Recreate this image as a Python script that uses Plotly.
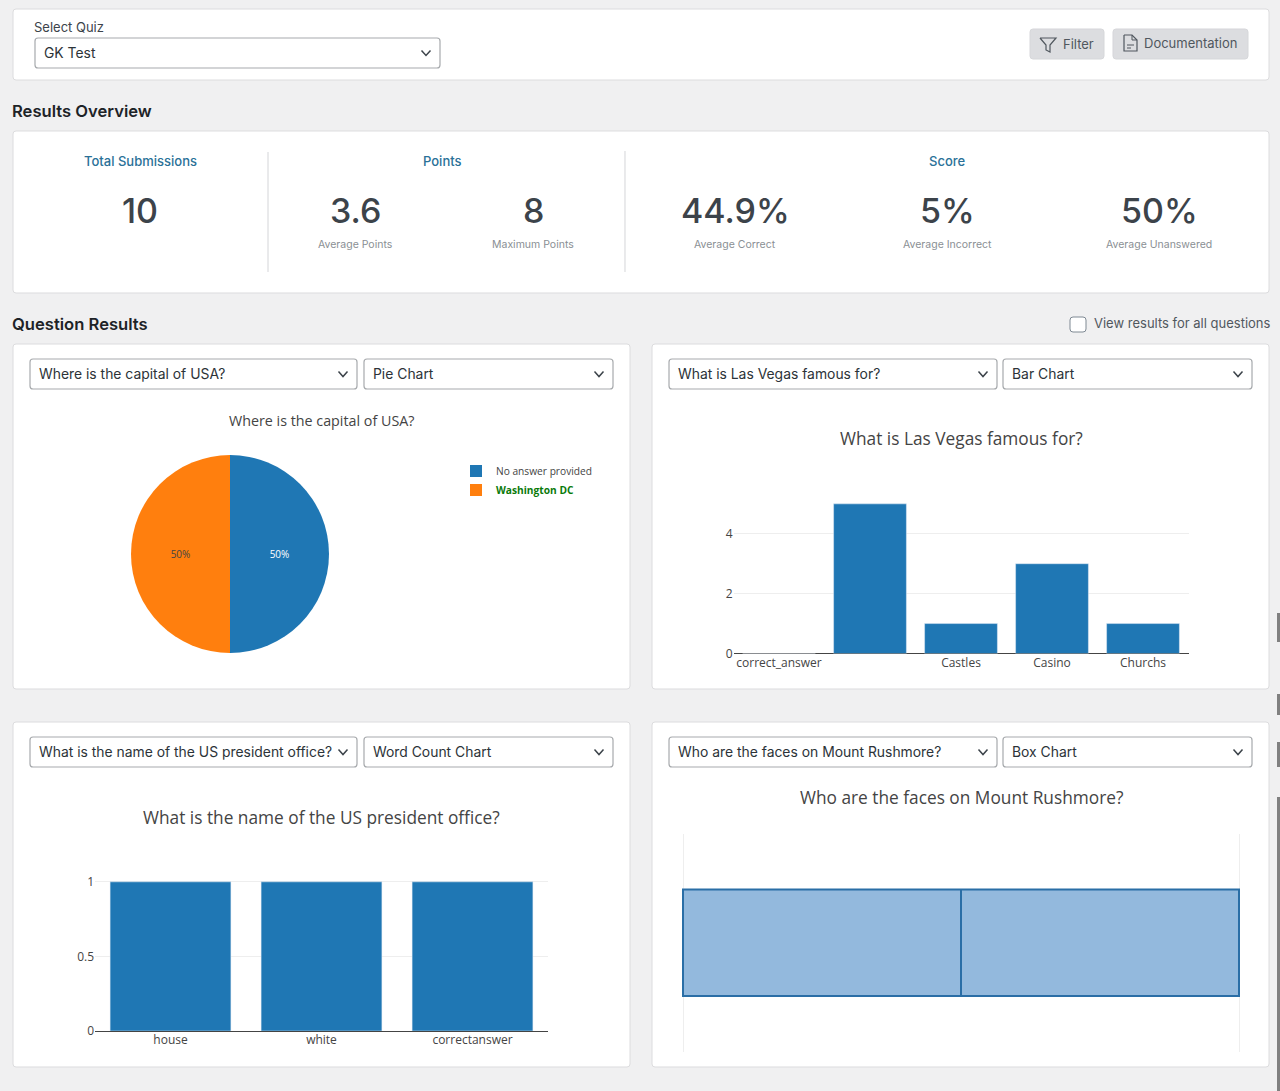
import plotly.graph_objects as go

W, H = 1280, 1091
UI_FONT = "Inter"
CHART_FONT = "Open Sans"

# Pie: Where is the capital of USA?
pie_labels = ["No answer provided", "<b><span style='color:#0a7a0a'>Washington DC</span></b>"]
pie_values = [50, 50]
pie_colors = ["#1f77b4", "#ff7f0e"]

# Bar: What is Las Vegas famous for?
vegas_labels = ["correct_answer", " ", "Castles", "Casino", "Churchs"]
vegas_values = [0, 5, 1, 3, 1]
vegas_ticks = [0, 2, 4]

# Word count
word_labels = ["house", "white", "correctanswer"]
word_values = [1, 1, 1]
word_ticks = [0, 0.5, 1]
word_ticktext = ["0", "0.5", "1"]

# Box: Who are the faces on Mount Rushmore?
box_q1 = [0]
box_median = [0.5]
box_q3 = [1]

# Overview numbers
summary_values = ["10", "3.6", "8", "44.9%", "5%", "50%"]
summary_labels = ["", "Average Points", "Maximum Points", "Average Correct", "Average Incorrect", "Average Unanswered"]
summary_x = [140, 355, 533, 735, 947, 1159]
group_titles = ["Total Submissions", "Points", "Score"]
group_x = [140, 442, 947]

# (question select text, chart select text, chart title)
select_rows = [
    ("Where is the capital of USA?", "Pie Chart"),
    ("What is Las Vegas famous for?", "Bar Chart"),
    ("What is the name of the US president office?", "Word Count Chart"),
    ("Who are the faces on Mount Rushmore?", "Box Chart"),
]


def px(x):
    return x / W


def py(y):
    return 1 - y / H


def rounded(x0, y0, x1, y1, r):
    # rounded box as an svg path in paper coords
    pts = [
        ("M", x0 + r, y0), ("L", x1 - r, y0), ("Q", x1, y0, x1, y0 + r),
        ("L", x1, y1 - r), ("Q", x1, y1, x1 - r, y1), ("L", x0 + r, y1),
        ("Q", x0, y1, x0, y1 - r), ("L", x0, y0 + r), ("Q", x0, y0, x0 + r, y0),
    ]
    out = ""
    for p in pts:
        out += p[0] + " " + " ".join(
            f"{px(v) if i % 2 == 0 else py(v):.5f}" for i, v in enumerate(p[1:])
        ) + " "
    return out + "Z"


def polyline(points):
    return "M " + " L ".join(f"{px(x):.5f} {py(y):.5f}" for x, y in points)


shapes = []
annotations = []


def box_shape(x0, y0, x1, y1, r=3, fill="#ffffff", line="#dcdcde", width=1):
    shapes.append(dict(type="path", path=rounded(x0, y0, x1, y1, r), xref="paper", yref="paper",
                       fillcolor=fill, line=dict(color=line, width=width), layer="below"))


def stroke(points, color="#50575e", width=1.5):
    shapes.append(dict(type="path", path=polyline(points), xref="paper", yref="paper",
                       line=dict(color=color, width=width), layer="below"))


def label(x, y, text, size, color="#3c434a", family=UI_FONT, anchor="center", weight=None):
    annotations.append(dict(x=px(x), y=py(y), xref="paper", yref="paper", text=text, showarrow=False,
                            xanchor=anchor, yanchor="middle", borderpad=0, borderwidth=0,
                            font=dict(size=size, color=color, family=family, weight=weight)))


def select(x0, y0, x1, y1, text):
    box_shape(x0, y0, x1, y1, r=3, line="#a7aaad", width=1.2)
    label(x0 + 9, (y0 + y1) / 2, text, 13.9, color="#2c3338", anchor="left")
    cx, cy = x1 - 14, (y0 + y1) / 2
    stroke([(cx - 4.5, cy - 2.5), (cx, cy + 2.5), (cx + 4.5, cy - 2.5)], color="#3c434a", width=1.5)


# cards
box_shape(13, 9, 1269, 80)
box_shape(13, 131, 1269, 293)
box_shape(13, 344, 630, 689)
box_shape(652, 344, 1269, 689)
box_shape(13, 722, 630, 1067)
box_shape(652, 722, 1269, 1067)

# header row
label(34, 27, "Select Quiz", 13, color="#3c434a", anchor="left")
select(35, 38, 440, 68, "GK Test")

box_shape(1030, 29, 1104, 59, r=3, fill="#dcdde0", line="#d6d7da")
box_shape(1113, 29, 1248, 59, r=3, fill="#dcdde0", line="#d6d7da")
stroke([(1040, 38), (1056, 38), (1050, 45), (1050, 52), (1046, 50), (1046, 45), (1040, 38)], width=1.2)
stroke([(1124, 35), (1132, 35), (1137, 40), (1137, 51), (1124, 51), (1124, 35)], width=1.2)
stroke([(1132, 35), (1132, 40), (1137, 40)], width=1)
stroke([(1127, 45), (1134, 45)], width=1)
stroke([(1127, 48), (1131, 48)], width=1)
label(1063, 44, "Filter", 13, color="#50575e", anchor="left")
label(1144, 43, "Documentation", 13, color="#50575e", anchor="left")

# section headers
label(12, 111, "Results Overview", 16.6, color="#1d2327", anchor="left", weight=600)
label(12, 324, "Question Results", 16.6, color="#1d2327", anchor="left", weight=600)
box_shape(1070, 317, 1086, 332, r=3, line="#7e8993", width=1)
label(1094, 323, "View results for all questions", 13, color="#50575e", anchor="left")

# overview block
stroke([(268, 152), (268, 272)], color="#d4d5d8", width=1)
stroke([(625, 151), (625, 272)], color="#d4d5d8", width=1)
for t, x in zip(group_titles, group_x):
    label(x, 161, t, 13, color="#2a7198", weight=500)
for v, t, x in zip(summary_values, summary_labels, summary_x):
    label(x, 210, v, 34, color="#3c434a", weight=500)
    if t:
        label(x, 245, t, 10.5, color="#8a8f94")

# selects inside the question cards
select(30, 359, 357, 389, select_rows[0][0])
select(364, 359, 613, 389, select_rows[0][1])
select(669, 359, 997, 389, select_rows[1][0])
select(1003, 359, 1252, 389, select_rows[1][1])
select(30, 737, 357, 767, select_rows[2][0])
select(364, 737, 613, 767, select_rows[2][1])
select(669, 737, 997, 767, select_rows[3][0])
select(1003, 737, 1252, 767, select_rows[3][1])

# chart titles
label(321, 420, select_rows[0][0], 14.3, color="#444444", family=CHART_FONT)
label(961, 439, select_rows[1][0], 17.3, color="#444444", family=CHART_FONT)
label(321, 817, select_rows[2][0], 17.3, color="#444444", family=CHART_FONT)
label(961, 797, select_rows[3][0], 17.3, color="#444444", family=CHART_FONT)

# scrollbar bits on the right edge of the screenshot
for y0, y1 in [(613, 642), (694, 715), (742, 767), (797, 1091)]:
    shapes.append(dict(type="rect", x0=px(1277), x1=1, y0=py(y1), y1=py(y0), xref="paper", yref="paper",
                       fillcolor="#808080", line=dict(width=0), layer="above"))

fig = go.Figure()

fig.add_trace(go.Pie(
    labels=pie_labels, values=pie_values, sort=False, direction="clockwise", rotation=0,
    marker=dict(colors=pie_colors), textinfo="percent", textposition="inside",
    insidetextorientation="horizontal", textfont=dict(size=10, family=CHART_FONT),
    domain=dict(x=[px(131), px(329)], y=[py(653), py(455)]), showlegend=True,
))

fig.add_trace(go.Bar(x=vegas_labels, y=vegas_values, marker_color="#1f77b4", xaxis="x", yaxis="y", showlegend=False))
fig.add_trace(go.Bar(x=word_labels, y=word_values, marker_color="#1f77b4", xaxis="x2", yaxis="y2", showlegend=False))
fig.add_trace(go.Box(
    orientation="h", y=[0], q1=box_q1, median=box_median, q3=box_q3, lowerfence=box_q1, upperfence=box_q3,
    width=0.49, marker_color="#1f77b4", line=dict(color="#2a6ea6", width=2),
    fillcolor="#93b9dd", xaxis="x3", yaxis="y3", showlegend=False,
))

tick_font = dict(size=12, color="#444444", family=CHART_FONT)


def cat_axis(x0, x1, anchor):
    return dict(domain=[px(x0), px(x1)], anchor=anchor, type="category", tickfont=tick_font,
                showgrid=False, ticks="", fixedrange=True, automargin=False)


def val_axis(y0, y1, rng, ticks, anchor, text=None):
    return dict(domain=[py(y1), py(y0)], anchor=anchor, range=rng, tickvals=ticks, ticktext=text,
                tickfont=tick_font, gridcolor="#eeeeee", zeroline=True, zerolinecolor="#444444",
                zerolinewidth=1, ticks="", fixedrange=True, automargin=False)


fig.update_layout(
    width=W, height=H, autosize=False,
    margin=dict(l=0, r=0, t=0, b=0),
    paper_bgcolor="#f0f0f1", plot_bgcolor="rgba(0,0,0,0)",
    font=dict(family=CHART_FONT, color="#444444"),
    bargap=0.2,
    shapes=shapes, annotations=annotations,
    legend=dict(x=px(456), y=py(456.5), xanchor="left", yanchor="top", bgcolor="rgba(0,0,0,0)",
                font=dict(size=10.2, color="#444444", family=CHART_FONT), tracegroupgap=0),
    xaxis=cat_axis(733.5, 1188.5, "y"),
    yaxis=val_axis(496, 653.5, [0, 5.263], vegas_ticks, "x"),
    xaxis2=cat_axis(95, 548, "y2"),
    yaxis2=val_axis(874, 1031, [0, 1.0526], word_ticks, "x2", word_ticktext),
    xaxis3=dict(domain=[px(681), px(1241)], anchor="y3", range=[-0.0036, 1.0036], tickvals=[0, 1],
                showticklabels=False, gridcolor="#eeeeee", zeroline=False, fixedrange=True, automargin=False),
    yaxis3=dict(domain=[py(1051.5), py(834)], anchor="x3", range=[-0.5, 0.5], showticklabels=False,
                showgrid=False, zeroline=False, fixedrange=True, automargin=False),
)

fig.write_html(
    "out.html",
    config=dict(displayModeBar=False),
    post_script="document.body.style.margin='0';document.body.style.overflow='hidden';",
)
